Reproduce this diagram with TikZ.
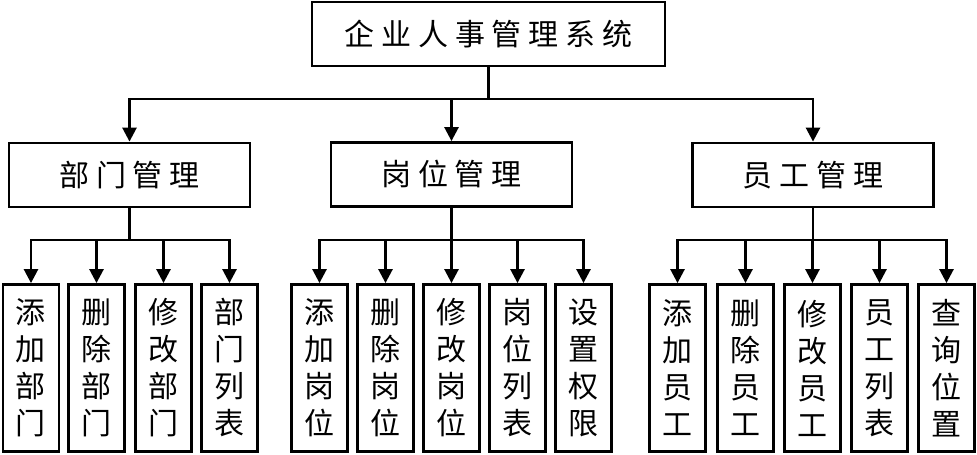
\documentclass[tikz,border=0pt]{standalone}
\usepackage{fontspec}
\usetikzlibrary{arrows.meta}
\newfontfamily\cjk{Noto Sans CJK SC}
\newfontfamily\cjkls[LetterSpace=23]{Noto Sans CJK SC}
\tikzset{
  box/.style={draw, line width=2.8pt, inner sep=0pt},
  topbox/.style={box, minimum width=353pt, minimum height=64pt, font=\cjkls\fontsize{30}{36}\selectfont},
  midbox/.style={box, minimum width=241pt, minimum height=64pt, font=\cjkls\fontsize{30}{36}\selectfont},
  leaf/.style={box, minimum width=56pt, minimum height=167pt, align=center, font=\cjk\fontsize{30}{37}\selectfont},
  conn/.style={line width=2.6pt, -{Triangle[width=14pt,length=14pt]}},
}
\begin{document}
\begin{tikzpicture}[x=1pt,y=1pt]
\useasboundingbox (0,0) rectangle (977,-455);
\node[topbox] (top) at (488.5,-34) {企业人事管理系统};
\node[midbox] (dep) at (129.5,-175) {部门管理};
\node[midbox] (pos) at (451.5,-174.5) {岗位管理};
\node[midbox] (emp) at (813,-175) {员工管理};
\coordinate (bus) at (0,-99);
\coordinate (bus2) at (0,-240);
\foreach \n/\x/\t in {d1/31/添\\加\\部\\门, d2/96.5/删\\除\\部\\门, d3/163.5/修\\改\\部\\门, d4/229.5/部\\门\\列\\表,
  p1/319.5/添\\加\\岗\\位, p2/385.5/删\\除\\岗\\位, p3/451.5/修\\改\\岗\\位, p4/517.5/岗\\位\\列\\表, p5/583.5/设\\置\\权\\限,
  e1/677.5/添\\加\\员\\工, e2/745.5/删\\除\\员\\工, e3/812.5/修\\改\\员\\工, e4/879.5/员\\工\\列\\表, e5/946.5/查\\询\\位\\置}
  {\node[leaf] (\n) at (\x,-368) {\t};}
\foreach \c in {dep,pos,emp}
  \draw[conn] (top.south) -- (top.south |- bus) -| (\c.north);
\foreach \c in {d1,d2,d3,d4}
  \draw[conn] (dep.south) -- (dep.south |- bus2) -| (\c.north);
\foreach \c in {p1,p2,p3,p4,p5}
  \draw[conn] (pos.south) -- (pos.south |- bus2) -| (\c.north);
\foreach \c in {e1,e2,e3,e4,e5}
  \draw[conn] (emp.south) -- (emp.south |- bus2) -| (\c.north);
\end{tikzpicture}
\end{document}
